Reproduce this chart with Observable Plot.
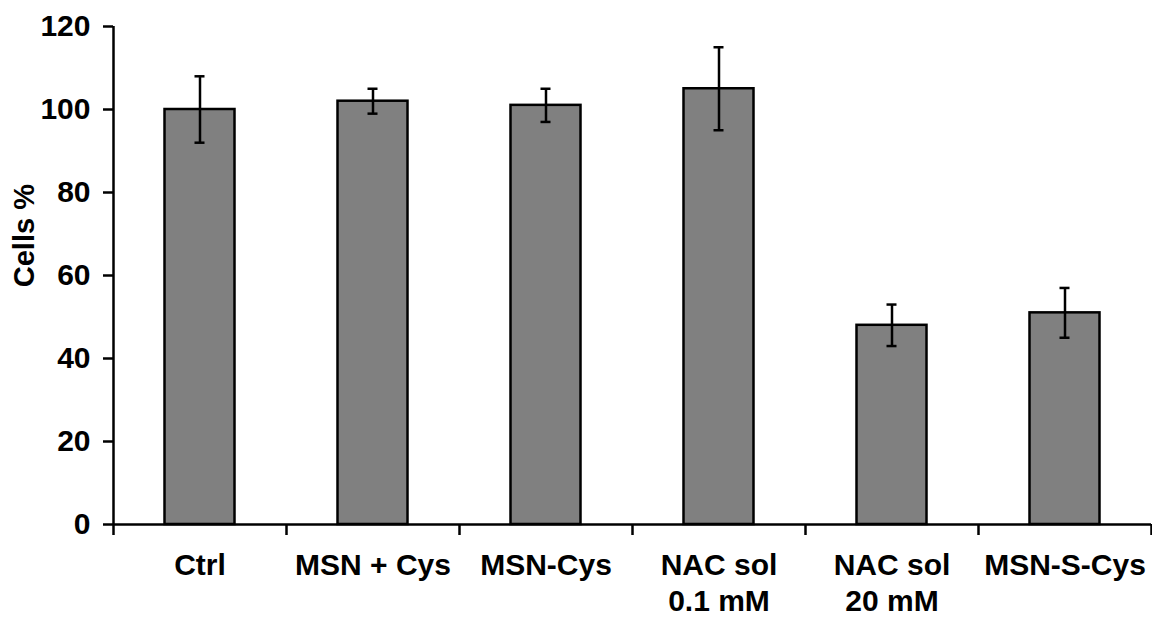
<!DOCTYPE html>
<html>
<head>
<meta charset="utf-8">
<script src="https://cdn.jsdelivr.net/npm/d3@7"></script>
<script src="https://cdn.jsdelivr.net/npm/@observablehq/plot@0.6"></script>
<style>
  html, body { margin: 0; padding: 0; background: #fff; }
</style>
</head>
<body>
<div id="chart"></div>
<script>
const categories = ["Ctrl", "MSN + Cys", "MSN-Cys", "NAC sol\n0.1 mM", "NAC sol\n20 mM", "MSN-S-Cys"];
const values = [100, 102, 101, 105, 48, 51];
const errors = [8, 3, 4, 10, 5, 6];
const yTicks = [0, 20, 40, 60, 80, 100, 120];
const yLabel = "Cells %";

const data = categories.map((c, i) => ({i, cat: c, value: values[i], err: errors[i]}));

const plot = Plot.plot({
  width: 1152,
  height: 620,
  marginLeft: 113,
  marginRight: 1,
  marginTop: 26,
  marginBottom: 96,
  style: {fontFamily: "'Liberation Sans', Arial, sans-serif", fontWeight: "bold", color: "black", background: "white", overflow: "visible"},
  x: {domain: [0, categories.length], axis: null},
  y: {domain: [0, 120], axis: null},
  marks: [
    Plot.rectY(data, {x1: d => d.i, x2: d => d.i + 1, y1: 0, y2: "value", insetLeft: 51.5, insetRight: 51.5, fill: "#808080", stroke: "black", strokeWidth: 2.5}),
    Plot.ruleX(data, {x: d => d.i + 0.5, y1: d => d.value - d.err, y2: d => d.value + d.err, stroke: "black", strokeWidth: 2.5}),
    Plot.ruleY(data, {x1: d => d.i + 0.5, x2: d => d.i + 0.5, y: d => d.value + d.err, insetLeft: -5, insetRight: -5, stroke: "black", strokeWidth: 2.5}),
    Plot.ruleY(data, {x1: d => d.i + 0.5, x2: d => d.i + 0.5, y: d => d.value - d.err, insetLeft: -5, insetRight: -5, stroke: "black", strokeWidth: 2.5}),
    Plot.axisY({ticks: yTicks, tickSize: 10, tickPadding: 13, fontSize: 30, fontWeight: "bold", strokeWidth: 2.5, label: null, tickFormat: d => String(d)}),
    Plot.text([yLabel], {x: 0, y: 69.6, text: d => d, rotate: -90, dx: -89, fontSize: 29, fontWeight: "bold", fill: "black"}),
    Plot.axisX({ticks: d3.range(0, categories.length + 1), tickSize: 11, strokeWidth: 2.5, tickFormat: () => "", label: null}),
    Plot.ruleY([0], {x1: 0, x2: categories.length, stroke: "black", strokeWidth: 2.5}),
    Plot.ruleX([0], {y1: 0, y2: 120, stroke: "black", strokeWidth: 2.5}),
    Plot.text(data, {x: d => d.i + 0.5, y: 0, text: "cat", lineAnchor: "top", dy: 24, fontSize: 30, lineHeight: 1.22, fontWeight: "bold", fill: "black"})
  ]
});
document.getElementById("chart").appendChild(plot);
</script>
</body>
</html>
